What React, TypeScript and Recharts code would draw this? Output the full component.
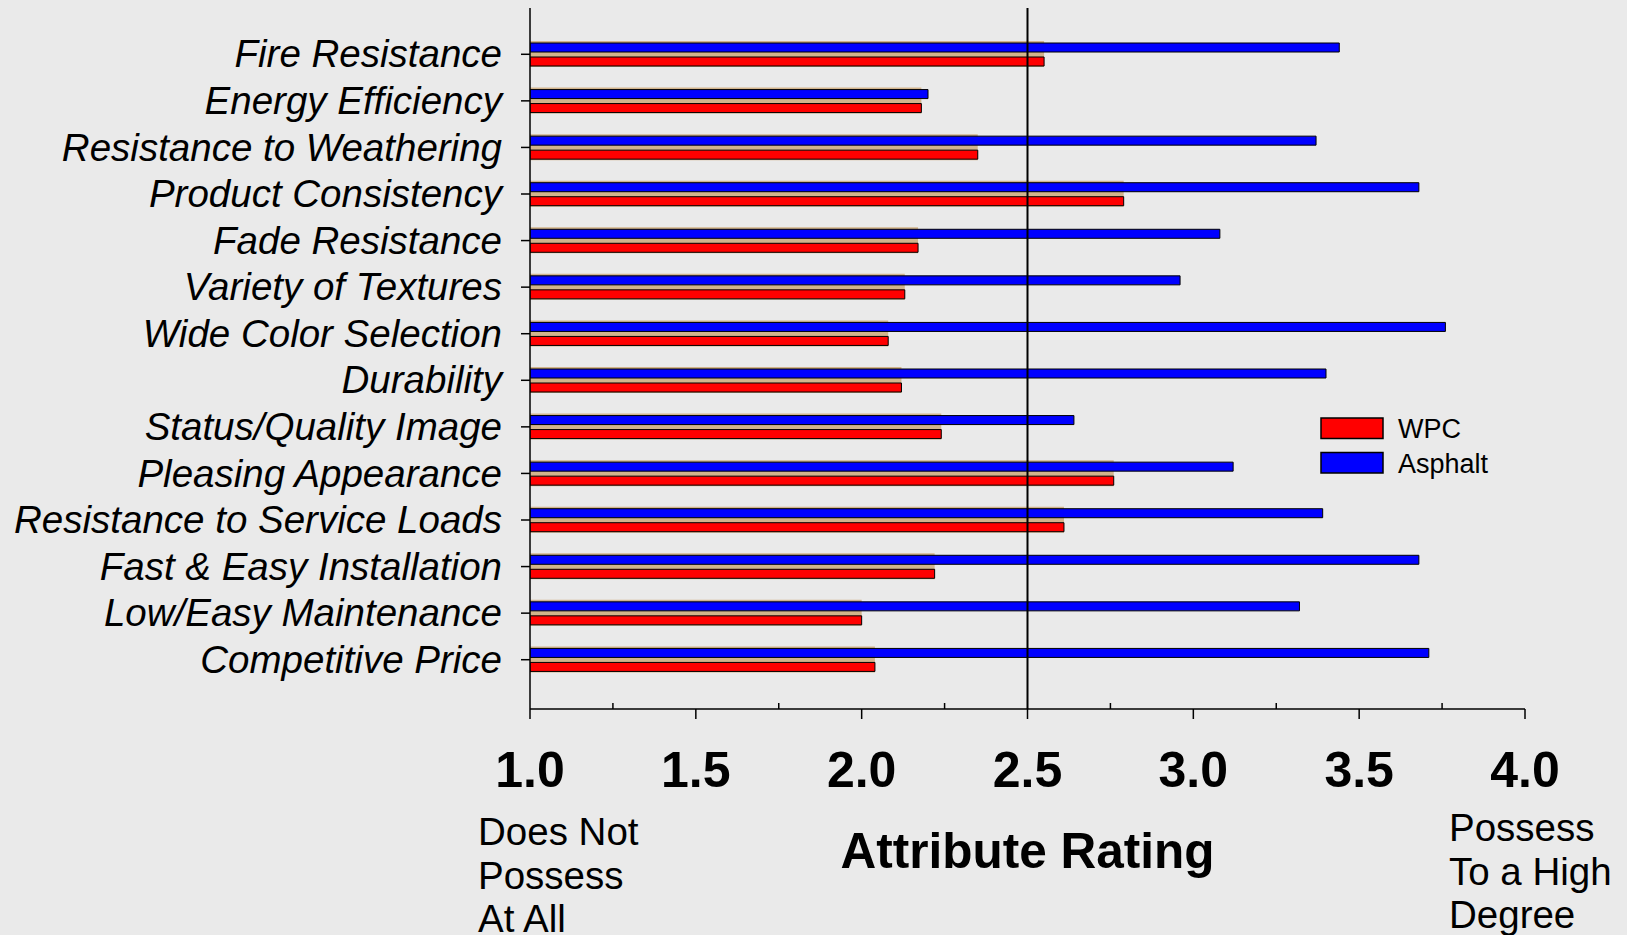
import React from "react";
import { BarChart, Bar, XAxis, YAxis, ReferenceLine, Legend } from "recharts";

const categories = [
  "Fire Resistance",
  "Energy Efficiency",
  "Resistance to Weathering",
  "Product Consistency",
  "Fade Resistance",
  "Variety of Textures",
  "Wide Color Selection",
  "Durability",
  "Status/Quality Image",
  "Pleasing Appearance",
  "Resistance to Service Loads",
  "Fast & Easy Installation",
  "Low/Easy Maintenance",
  "Competitive Price",
];
const wpcValues = [2.55, 2.18, 2.35, 2.79, 2.17, 2.13, 2.08, 2.12, 2.24, 2.76, 2.61, 2.22, 2.0, 2.04];
const asphaltValues = [3.44, 2.2, 3.37, 3.68, 3.08, 2.96, 3.76, 3.4, 2.64, 3.12, 3.39, 3.68, 3.32, 3.71];
const majorTicks = [1, 1.5, 2, 2.5, 3, 3.5, 4];
const minorTicks = [1.25, 1.75, 2.25, 2.75, 3.25, 3.75];
const legendOrder = ["WPC", "Asphalt"];
const seriesColors: Record<string, string> = { WPC: "#FF0000", Asphalt: "#0000FF" };
const lowEndLabel = ["Does Not", "Possess", "At All"];
const highEndLabel = ["Possess", "To a High", "Degree"];
const axisTitle = "Attribute Rating";
const referenceValue = 2.5;

const data = categories.map((name, i) => ({ name, WPC: wpcValues[i], Asphalt: asphaltValues[i] }));
const allTicks = [...majorTicks, ...minorTicks].sort((a, b) => a - b);

const FONT = "'Liberation Sans', Arial, Helvetica, sans-serif";
const BG = "#EAEAEA";
const Y_PADDING = { top: 23, bottom: 26 };

const XTick = (props: any) => {
  const { x, y, payload } = props;
  const v = payload.value as number;
  if (majorTicks.includes(v)) {
    return (
      <g>
        <line x1={x} x2={x} y1={y} y2={y + 10} stroke="#000" strokeWidth={1.5} />
        <text x={x} y={y + 78} textAnchor="middle" fontSize={50} fontWeight="bold" fontFamily={FONT} fill="#000">
          {v.toFixed(1)}
        </text>
      </g>
    );
  }
  return <line x1={x} x2={x} y1={y} y2={y - 6} stroke="#000" strokeWidth={1.5} />;
};

const YTick = (props: any) => {
  const { x, y, payload } = props;
  return (
    <text x={x} y={y} dy="0.34em" textAnchor="end" fontSize={38.5} fontStyle="italic" fontFamily={FONT} fill="#000">
      {payload.value}
    </text>
  );
};

const AxisTexts = (props: any) => {
  const vb = props.viewBox || { x: 530, y: 709, width: 995 };
  const left = vb.x;
  const right = vb.x + vb.width;
  const top = vb.y;
  return (
    <g fontFamily={FONT} fill="#000">
      <text x={left + vb.width / 2} y={top + 159} textAnchor="middle" fontSize={49.5} fontWeight="bold">
        {axisTitle}
      </text>
      {lowEndLabel.map((t, i) => (
        <text key={"l" + i} x={left - 52} y={top + 136 + i * 43.5} fontSize={38.5}>
          {t}
        </text>
      ))}
      {highEndLabel.map((t, i) => (
        <text key={"h" + i} x={right - 76} y={top + 132 + i * 43.5} fontSize={38.5}>
          {t}
        </text>
      ))}
    </g>
  );
};

const LegendContent = () => (
  <svg width={220} height={64}>
    {legendOrder.map((name, i) => (
      <g key={name}>
        <rect x={1} y={1 + i * 34.5} width={62} height={20.5} fill={seriesColors[name]} stroke="#000" strokeWidth={1.5} />
        <text x={78} y={21 + i * 34.5} fontSize={27} fontFamily={FONT} fill="#000">
          {name}
        </text>
      </g>
    ))}
  </svg>
);

export default function App() {
  return (
    <div style={{ position: "fixed", left: 0, top: 0, width: 1627, height: 935, background: BG, overflow: "hidden" }}>
      <BarChart
        width={1627}
        height={935}
        data={data}
        layout="vertical"
        margin={{ top: 8, right: 102, left: 0, bottom: 0 }}
        barSize={9}
        barGap={5}
      >
        <XAxis
          type="number"
          domain={[1, 4]}
          ticks={allTicks}
          interval={0}
          tick={<XTick />}
          tickSize={0}
          tickMargin={0}
          tickLine={false}
          height={226}
          axisLine={{ stroke: "#000", strokeWidth: 1.5 }}
          allowDataOverflow
          label={<AxisTexts />}
        />
        <XAxis
          xAxisId="top"
          orientation="top"
          type="number"
          domain={[1, 4]}
          height={0}
          tick={false}
          tickLine={false}
          axisLine={{ stroke: "#000", strokeWidth: 1.5 }}
        />
        <YAxis
          type="category"
          dataKey="name"
          width={530}
          tick={<YTick />}
          tickSize={9}
          tickMargin={19}
          tickLine={{ stroke: "#000", strokeWidth: 1.5 }}
          axisLine={{ stroke: "#000", strokeWidth: 1.5 }}
          interval={0}
          padding={Y_PADDING}
        />
        <YAxis yAxisId="shadow" type="category" dataKey="name" hide padding={Y_PADDING} />
        <YAxis
          yAxisId="right"
          orientation="right"
          type="category"
          dataKey="name"
          width={0}
          tick={false}
          tickLine={false}
          axisLine={{ stroke: "#000", strokeWidth: 1.5 }}
          padding={Y_PADDING}
        />
        <Bar
          dataKey="WPC"
          yAxisId="shadow"
          barSize={26}
          fill="#D2B48C"
          legendType="none"
          isAnimationActive={false}
        />
        <Bar dataKey="Asphalt" fill="#0000FF" stroke="#000" strokeWidth={1} isAnimationActive={false} />
        <Bar dataKey="WPC" fill="#FF0000" stroke="#000" strokeWidth={1} isAnimationActive={false} />
        <ReferenceLine x={referenceValue} stroke="#000" strokeWidth={2} />
        <Legend
          layout="vertical"
          align="center"
          verticalAlign="middle"
          content={<LegendContent />}
          wrapperStyle={{ left: 1320, top: 417, width: 220, height: 64 }}
        />
      </BarChart>
    </div>
  );
}
